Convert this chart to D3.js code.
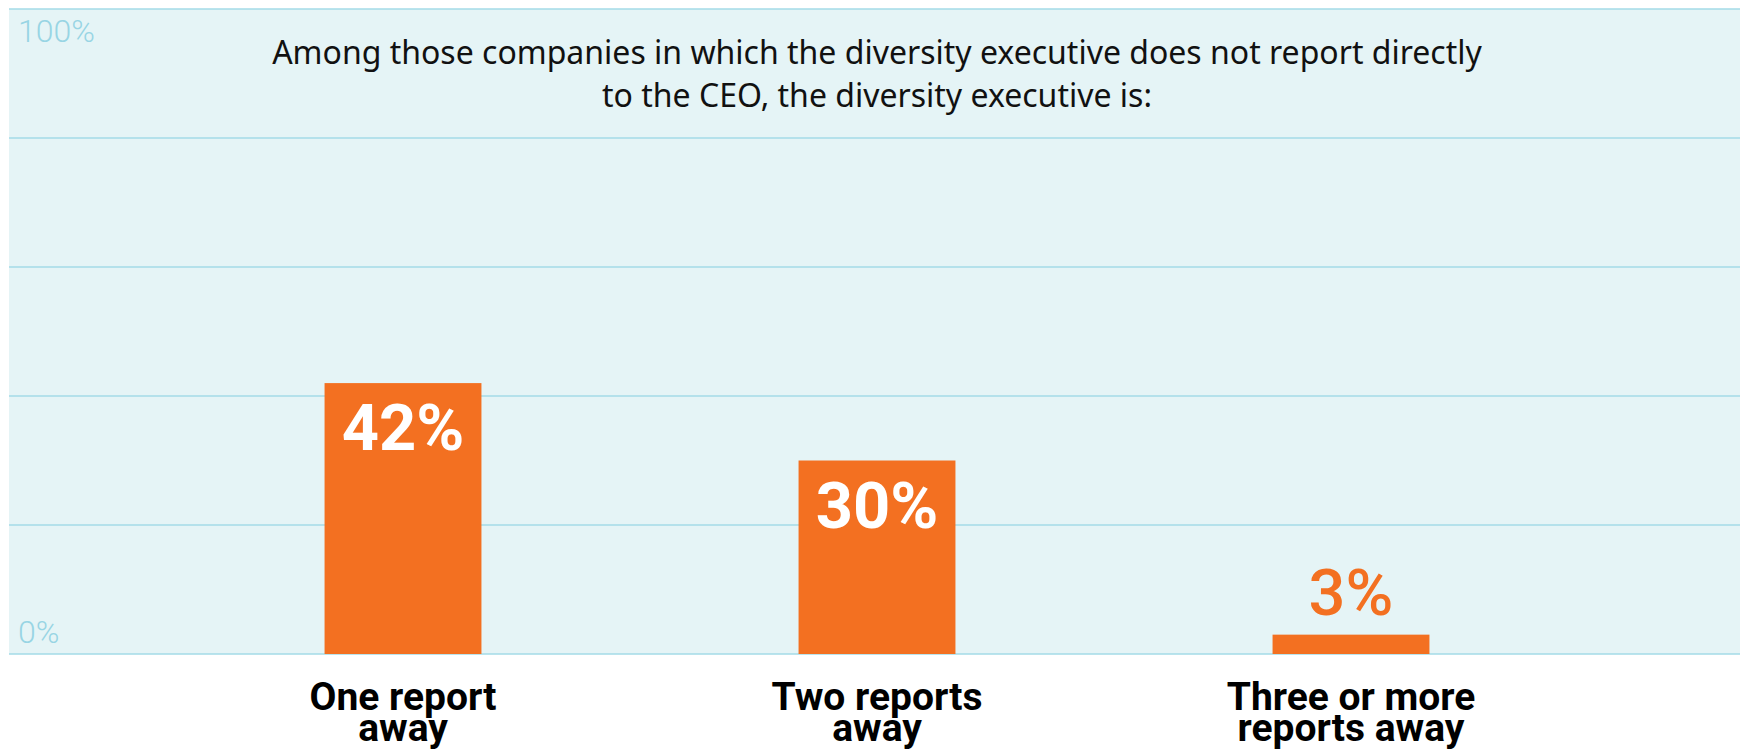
<!DOCTYPE html>
<html>
<head>
<meta charset="utf-8">
<script src="https://cdn.jsdelivr.net/npm/d3@7"></script>
<style>
  html, body { margin: 0; padding: 0; background: #ffffff; }
  svg { display: block; }
</style>
</head>
<body>
<svg id="chart" width="1740" height="752"></svg>
<script>
// Reporting distance of the diversity executive from the CEO
const categories = [["One report", "away"], ["Two reports", "away"], ["Three or more", "reports away"]];
const values = [42, 30, 3];
const valueLabels = ["42%", "30%", "3%"];
const gridTicks = [0, 20, 40, 60, 80, 100];
const axisLabels = [{ v: 100, text: "100%" }, { v: 0, text: "0%" }];
const titleLines = [
  "Among those companies in which the diversity executive does not report directly",
  "to the CEO, the diversity executive is:"
];

const W = 1740, H = 752;
const plot = { left: 9, right: 1740, top: 9, bottom: 654 };
const orange = "#f37021";
const gridColor = "#a3dbe7";
const bg = "#e5f4f6";

const svg = d3.select("#chart");

const y = d3.scaleLinear().domain([0, 100]).range([plot.bottom, plot.top]);
const x = d3.scaleBand()
  .domain(d3.range(values.length))
  .range([166, 1588])
  .paddingInner(0.669)
  .paddingOuter(0.3345);

// panel background
svg.append("rect")
  .attr("x", plot.left).attr("y", plot.top)
  .attr("width", plot.right - plot.left).attr("height", plot.bottom - plot.top)
  .attr("fill", bg);

// horizontal grid lines
svg.append("g").selectAll("line")
  .data(gridTicks)
  .join("line")
  .attr("x1", plot.left).attr("x2", plot.right)
  .attr("y1", d => y(d)).attr("y2", d => y(d))
  .attr("stroke", gridColor).attr("stroke-width", 1.6);

// axis labels for the ends of the scale
svg.append("g").selectAll("text")
  .data(axisLabels)
  .join("text")
  .attr("x", 18)
  .attr("y", d => d.v === 100 ? y(d.v) + 33 : y(d.v) - 11)
  .attr("fill", "#98d5e4")
  .attr("font-family", "Roboto, 'Noto Sans', sans-serif")
  .attr("font-weight", 300)
  .attr("font-size", 32)
  .text(d => d.text);

// title
svg.append("g").selectAll("text")
  .data(titleLines)
  .join("text")
  .attr("x", x(1) + x.bandwidth() / 2)
  .attr("y", (d, i) => 64 + i * 43)
  .attr("text-anchor", "middle")
  .attr("fill", "#111111")
  .attr("font-family", "'Noto Sans', Roboto, sans-serif")
  .attr("font-size", 32)
  .text(d => d);

// bars
svg.append("g").selectAll("rect")
  .data(values)
  .join("rect")
  .attr("x", (d, i) => x(i))
  .attr("y", d => y(d))
  .attr("width", x.bandwidth())
  .attr("height", d => y(0) - y(d))
  .attr("fill", orange);

// value labels: inside tall bars, above short bars
const inside = d => (y(0) - y(d)) > 90;
svg.append("g").selectAll("text")
  .data(values)
  .join("text")
  .attr("x", (d, i) => x(i) + x.bandwidth() / 2)
  .attr("y", d => inside(d) ? y(d) + 67 : y(d) - 20)
  .attr("text-anchor", "middle")
  .attr("fill", d => inside(d) ? "#ffffff" : orange)
  .attr("font-family", "Roboto, 'Noto Sans', sans-serif")
  .attr("font-weight", d => inside(d) ? 700 : 500)
  .attr("font-size", 65)
  .text((d, i) => valueLabels[i]);

// category labels, two tightly set lines each
const cat = svg.append("g").selectAll("text")
  .data(categories)
  .join("text")
  .attr("text-anchor", "middle")
  .attr("fill", "#000000")
  .attr("font-family", "Roboto, 'Noto Sans', sans-serif")
  .attr("font-weight", 700)
  .attr("font-size", 39);
cat.selectAll("tspan")
  .data((d, i) => d.map(t => ({ t, i })))
  .join("tspan")
  .attr("x", d => x(d.i) + x.bandwidth() / 2)
  .attr("y", (d, j) => 710 + j * 31)
  .text(d => d.t);
</script>
</body>
</html>
